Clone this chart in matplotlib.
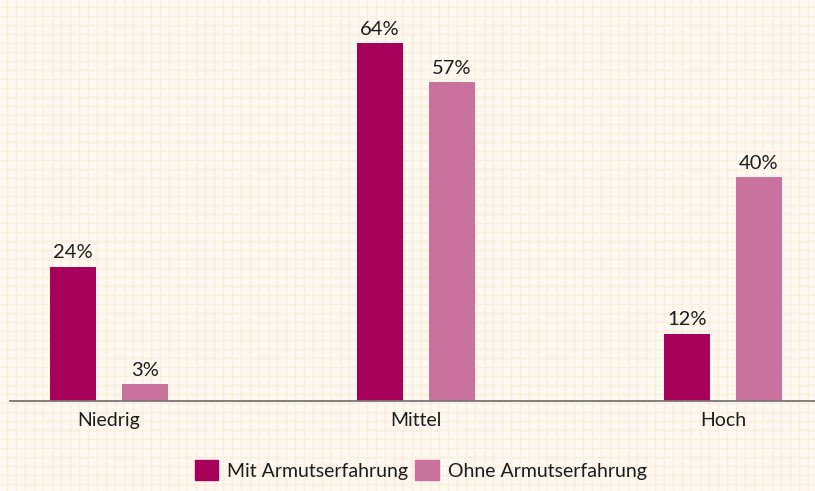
import numpy as np
import matplotlib

matplotlib.use("Agg")
import matplotlib.pyplot as plt
from matplotlib.patches import Patch

# data
categories = ["Niedrig", "Mittel", "Hoch"]
series_names = ["Mit Armutserfahrung", "Ohne Armutserfahrung"]
mit_values = [24, 64, 12]
ohne_values = [3, 57, 40]

C_MIT = "#A6005B"
C_OHNE = "#C8729D"
C_BG = "#FFF9F1"
C_GRID = "#FDEEDB"
C_TEXT = "#1c1c1c"
FONT = ["Lato", "DejaVu Sans"]

W, H = 815, 491
plt.rcParams["font.family"] = FONT

fig = plt.figure(figsize=(W / 100, H / 100), dpi=100)
fig.patch.set_facecolor(C_BG)

# squared paper background
bg = fig.add_axes([0, 0, 1, 1], zorder=0)
bg.set_xlim(0, W)
bg.set_ylim(H, 0)
bg.set_facecolor(C_BG)
for v in np.arange(7, W, 9):
    bg.axvline(v, color=C_GRID, lw=1.0)
for v in np.arange(7, H, 9):
    bg.axhline(v, color=C_GRID, lw=1.0)
bg.axis("off")

# main axes: baseline at 401 px from top, axis starts at x=10
base_px = 401
ax = fig.add_axes([10 / W, (H - base_px) / H, 1 - 10 / W, base_px / H], zorder=1)
ax.patch.set_alpha(0)

spacing = 307.0
x = np.arange(len(categories))
bw = 46 / spacing
off = 36 / spacing

b1 = ax.bar(x - off, mit_values, bw, color=C_MIT, label=series_names[0])
b2 = ax.bar(x + off, ohne_values, bw, color=C_OHNE, label=series_names[1])
for bars in (b1, b2):
    ax.bar_label(bars, labels=[f"{v}%" for v in bars.datavalues], padding=4,
                 fontsize=14.5, color=C_TEXT)

ax.set_xlim((10 - 109) / spacing, (W - 109) / spacing)
ax.set_ylim(0, base_px / 5.59)
ax.set_xticks(x)
ax.set_xticklabels(categories, fontsize=14, color=C_TEXT)
ax.tick_params(axis="x", length=0, pad=8)
ax.set_yticks([])
for s in ("top", "right", "left"):
    ax.spines[s].set_visible(False)
ax.spines["bottom"].set_color("#777777")
ax.spines["bottom"].set_linewidth(1.3)

handles = [Patch(color=C_MIT), Patch(color=C_OHNE)]
fig.legend(handles, series_names, loc="lower center", bbox_to_anchor=(0.516, 0.0),
           ncol=2, frameon=False, fontsize=14, borderpad=0.05, handlelength=1.2,
           handleheight=1.2, handletextpad=0.45, columnspacing=0.4,
           labelcolor=C_TEXT)

fig.savefig("out.png", dpi=100, facecolor=C_BG)
